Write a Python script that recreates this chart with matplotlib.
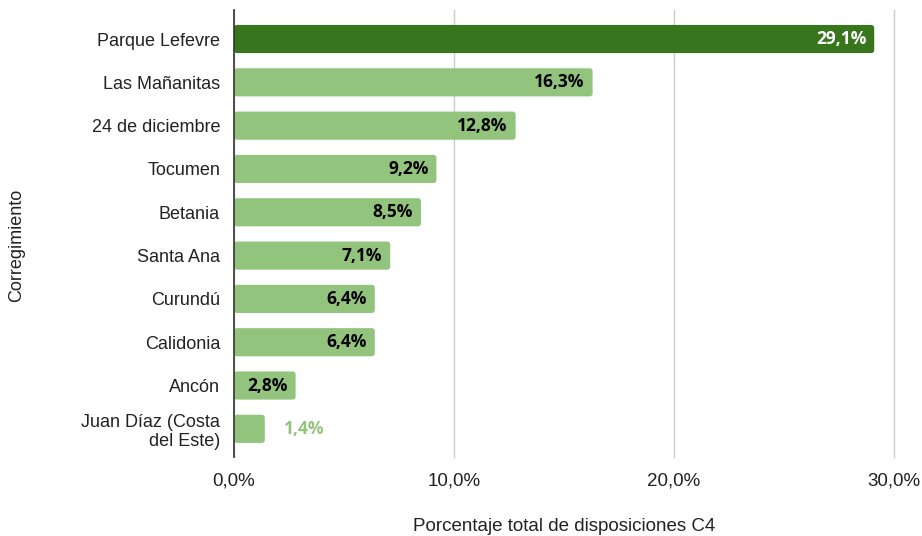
import matplotlib.pyplot as plt
from matplotlib.patches import FancyBboxPatch

plt.rcParams['font.family'] = ['Liberation Sans', 'DejaVu Sans']

corregimientos = ['Parque Lefevre', 'Las Mañanitas', '24 de diciembre', 'Tocumen',
                  'Betania', 'Santa Ana', 'Curundú', 'Calidonia', 'Ancón',
                  'Juan Díaz (Costa\ndel Este)']
porcentajes = [29.1, 16.3, 12.8, 9.2, 8.5, 7.1, 6.4, 6.4, 2.8, 1.4]

dark_green = '#38761d'
light_green = '#93c47d'

fig = plt.figure(figsize=(9.22, 5.36), dpi=100)
ax = fig.add_axes([234 / 922, 1 - 457 / 536, (894 - 234) / 922, 447 / 536])

y = list(range(len(corregimientos)))
colors = [dark_green] + [light_green] * (len(porcentajes) - 1)
bars = ax.barh(y, porcentajes, height=0.65, color=colors, zorder=3)

# swap plain bars for rounded ones
px_x = 10 / 220
px_y = 1 / 43.33
for b in bars:
    b.set_visible(False)
    x0, y0 = b.get_x(), b.get_y()
    w, h = b.get_width(), b.get_height()
    r = 3 * px_x
    patch = FancyBboxPatch((x0 + r, y0 + r * px_y / px_x), w - 2 * r, h - 2 * r * px_y / px_x,
                           boxstyle='round,pad=%f' % r, mutation_aspect=px_y / px_x,
                           facecolor=b.get_facecolor(), edgecolor='none', zorder=3)
    ax.add_patch(patch)

for i, v in enumerate(porcentajes):
    txt = ('%.1f%%' % v).replace('.', ',')
    kw = dict(va='center', fontsize=12.5, fontweight='bold', zorder=4,
              family=['Open Sans', 'DejaVu Sans'])
    if i == 0:
        ax.text(v - 8 * px_x, i, txt, ha='right', color='white', **kw)
    elif v < 2:
        ax.text(v + 19 * px_x, i, txt, ha='left', color=light_green, **kw)
    else:
        ax.text(v - 8 * px_x, i, txt, ha='right', color='black', **kw)

ax.set_xlim(0, 30)
ax.set_ylim(9.65, -0.67)
ax.set_xticks([0, 10, 20, 30])
ax.set_xticklabels(['0,0%', '10,0%', '20,0%', '30,0%'])
ax.set_yticks(y)
ax.set_yticklabels(corregimientos)
ax.tick_params(length=0, colors='#222222')
ax.tick_params(axis='x', pad=11, labelsize=13.5)
ax.tick_params(axis='y', pad=10, labelsize=13)
ax.grid(axis='x', color='#cccccc', linewidth=1, zorder=0)
for gl in ax.get_xgridlines():
    gl.set_clip_on(False)
for s in ['top', 'right', 'bottom']:
    ax.spines[s].set_visible(False)
ax.spines['left'].set_color('#333333')
ax.spines['left'].set_linewidth(1.2)
ax.spines['left'].set_zorder(5)

ax.set_xlabel('Porcentaje total de disposiciones C4', fontsize=13.5, color='#222222', labelpad=21)
fig.text(17 / 922, 1 - 245 / 536, 'Corregimiento', rotation=90, ha='center', va='center',
         fontsize=13, color='#222222')

fig.savefig('out.png', dpi=100)
